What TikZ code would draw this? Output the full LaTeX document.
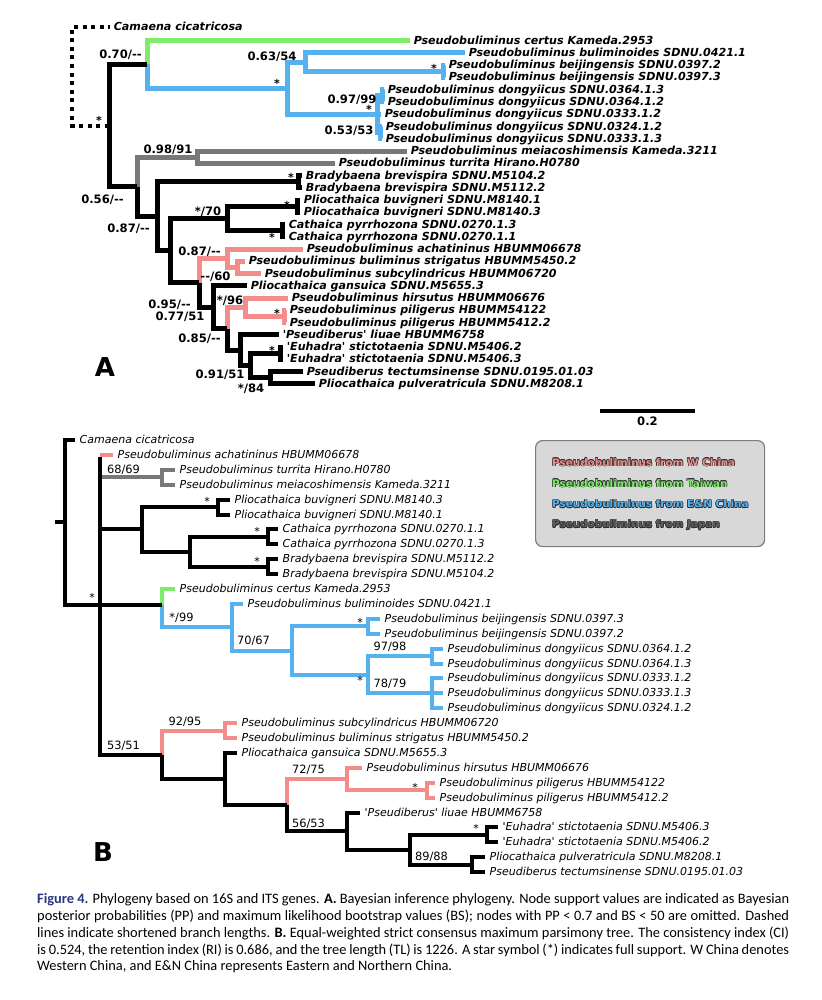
\documentclass[tikz,border=0pt]{standalone}
\usepackage{fontspec}
\setmainfont{DejaVu Sans}[Ligatures=TeXOff, BoldFont={DejaVu Sans Bold}, ItalicFont={DejaVu Sans Oblique}, BoldItalicFont={DejaVu Sans Bold Oblique}]
\newfontfamily\capfont{Carlito}
\usetikzlibrary{calc}
\definecolor{cgreen}{RGB}{125,236,105}
\definecolor{cblue}{RGB}{85,178,238}
\definecolor{cpink}{RGB}{244,140,140}
\definecolor{cgray}{RGB}{120,120,120}
\definecolor{legfill}{RGB}{216,216,216}
\definecolor{legdraw}{RGB}{125,125,125}
\definecolor{legout}{RGB}{45,45,45}
\definecolor{leggray}{RGB}{95,95,95}
\definecolor{figblue}{RGB}{40,55,130}
\tikzset{
  brA/.style={line width=5pt, line join=miter},
  brB/.style={line width=4pt, line join=miter},
  dotA/.style={line width=4pt, dash pattern=on 4pt off 4.6pt},
  labA/.style={font=\fontsize{11.1}{12}\selectfont\bfseries\itshape, anchor=west, inner xsep=3.6pt, inner ysep=0pt, text height=7pt, text depth=0pt},
  labB/.style={font=\fontsize{11}{12}\selectfont\itshape, anchor=west, inner xsep=4.5pt, inner ysep=0pt, text height=7pt, text depth=0pt},
  supA/.style={font=\fontsize{11.6}{12}\selectfont\bfseries, inner sep=0pt},
  supB/.style={font=\fontsize{11.4}{12}\selectfont, inner sep=0pt},
  starA/.style={font=\fontsize{11}{12}\selectfont\bfseries, inner sep=0pt},
  starB/.style={font=\fontsize{11}{12}\selectfont, inner sep=0pt},
  legt/.style={font=\fontsize{10.4}{12}\selectfont\bfseries, anchor=west, inner sep=0pt},
  panel/.style={font=\fontsize{26}{28}\selectfont\bfseries, inner sep=0pt},
}
\newcommand\tA[4]{\coordinate (#1) at (#2,{40.7+12.26*#3}); \node[labA] (#1t) at (#1) {#4};}
\newcommand\tB[4]{\coordinate (#1) at (#2,{440+14.9*#3}); \node[labB] (#1t) at (#1) {#4};}
\newcommand\sq{\textquotesingle}
\newcommand\legl[4]{%
  \foreach \dx/\dy in {0.6/0,-0.6/0,0/0.6,0/-0.6,0.42/0.42,0.42/-0.42,-0.42/0.42,-0.42/-0.42}
    {\node[legt,text=legout] at (552+\dx,#3+\dy) {#4};}
  \node[legt,text=#2] (#1) at (552,#3) {#4};}
\begin{document}
\begin{tikzpicture}[x=1pt,y=-1pt]
\useasboundingbox[fill=white] (0,0) rectangle (821,1000);

% ================= TREE A =================
\tA{a0}{410}{0}{Pseudobuliminus certus Kameda.2953}
\tA{a1}{465}{1}{Pseudobuliminus buliminoides SDNU.0421.1}
\tA{a2}{445}{2}{Pseudobuliminus beijingensis SDNU.0397.2}
\tA{a3}{445}{3}{Pseudobuliminus beijingensis SDNU.0397.3}
\tA{a4}{384}{4}{Pseudobuliminus dongyiicus SDNU.0364.1.3}
\tA{a5}{384}{5}{Pseudobuliminus dongyiicus SDNU.0364.1.2}
\tA{a6}{381}{6}{Pseudobuliminus dongyiicus SDNU.0333.1.2}
\tA{a7}{382}{7}{Pseudobuliminus dongyiicus SDNU.0324.1.2}
\tA{a8}{382}{8}{Pseudobuliminus dongyiicus SDNU.0333.1.3}
\tA{a9}{407}{9}{Pseudobuliminus meiacoshimensis Kameda.3211}
\tA{a10}{335}{10}{Pseudobuliminus turrita Hirano.H0780}
\tA{a11}{302}{11}{Bradybaena brevispira SDNU.M5104.2}
\tA{a12}{302}{12}{Bradybaena brevispira SDNU.M5112.2}
\tA{a13}{300}{13}{Pliocathaica buvigneri SDNU.M8140.1}
\tA{a14}{300}{14}{Pliocathaica buvigneri SDNU.M8140.3}
\tA{a15}{285}{15}{Cathaica pyrrhozona SDNU.0270.1.3}
\tA{a16}{285}{16}{Cathaica pyrrhozona SDNU.0270.1.1}
\tA{a17}{303}{17}{Pseudobuliminus achatininus HBUMM06678}
\tA{a18}{245}{18}{Pseudobuliminus buliminus strigatus HBUMM5450.2}
\tA{a19}{261}{19}{Pseudobuliminus subcylindricus HBUMM06720}
\tA{a20}{247}{20}{Pliocathaica gansuica SDNU.M5655.3}
\tA{a21}{288}{21}{Pseudobuliminus hirsutus HBUMM06676}
\tA{a22}{286}{22}{Pseudobuliminus piligerus HBUMM54122}
\tA{a23}{286}{23}{Pseudobuliminus piligerus HBUMM5412.2}
\tA{a24}{279}{24}{\sq Pseudiberus\sq\ liuae HBUMM6758}
\tA{a25}{283}{25}{\sq Euhadra\sq\ stictotaenia SDNU.M5406.2}
\tA{a26}{283}{26}{\sq Euhadra\sq\ stictotaenia SDNU.M5406.3}
\tA{a27}{303}{27}{Pseudiberus tectumsinense SDNU.0195.01.03}
\tA{a28}{315}{28}{Pliocathaica pulveratricula SDNU.M8208.1}

\coordinate (R) at (109,125.57);
\coordinate (N070) at (147,64.46);
\coordinate (P1) at (287,88.21);
\coordinate (N063) at (305,62.16);
\coordinate (NB) at (443,71.35);
\coordinate (D) at (377,114.26);
\coordinate (N097) at (382,95.87);
\coordinate (N053) at (380,132.65);
\coordinate (N056) at (137,186.68);
\coordinate (NJ) at (197,157.17);
\coordinate (N087a) at (157,216.18);
\coordinate (NBr) at (298,181.69);
\coordinate (Y) at (170,250.66);
\coordinate (N70) at (227,218.47);
\coordinate (NPl) at (297,206.21);
\coordinate (NCa) at (282,230.73);
\coordinate (Z) at (199,282.84);
\coordinate (W1) at (227,258.32);
\coordinate (SS) at (237,267.51);
\coordinate (W) at (213,307.35);
\coordinate (V) at (227,328.8);
\coordinate (H) at (245,307.36);
\coordinate (PG) at (284,316.55);
\coordinate (L) at (240,350.27);
\coordinate (N091) at (250,365.59);
\coordinate (Eu) at (280,353.33);
\coordinate (N084) at (270,377.85);

% outgroup (dotted, shortened)
\coordinate (dotc) at (72,27);
\coordinate (camA) at (110,27);
\node[labA] (camAt) at (camA) {Camaena cicatricosa};
\draw[dotA] (R) -| (dotc) -- (camA);

\foreach \p/\c in {N056/NJ,NJ/a9,NJ/a10} \draw[brA,cgray] (\p) |- (\c);
\foreach \p/\c in {N070/a0} \draw[brA,cgreen] (\p) |- (\c);
\foreach \p/\c in {N070/P1,P1/N063,P1/D,N063/a1,N063/NB,NB/a2,NB/a3,D/N097,D/a6,D/N053,N097/a4,N097/a5,N053/a7,N053/a8}
  \draw[brA,cblue] (\p) |- (\c);
\foreach \p/\c in {Z/W1,W1/a17,W1/SS,SS/a18,SS/a19,V/H,H/a21,H/PG,PG/a22,PG/a23}
  \draw[brA,cpink] (\p) |- (\c);
\foreach \p/\c in {R/N070,R/N056,N056/N087a,N087a/NBr,N087a/Y,NBr/a11,NBr/a12,Y/N70,Y/Z,N70/NPl,N70/NCa,NPl/a13,NPl/a14,NCa/a15,NCa/a16,Z/W,W/a20,W/V,V/L,L/a24,L/N091,N091/Eu,N091/N084,Eu/a25,Eu/a26,N084/a27,N084/a28}
  \draw[brA] (\p) |- (\c);

% support values A
\node[starA] (sR) at (99,120) {*};
\node[supA] (s070) at (120.5,55) {0.70/--};
\node[supA] (s063) at (272,56.5) {0.63/54};
\node[starA] (sP1) at (277,83) {*};
\node[starA] (sNB) at (434,68.5) {*};
\node[supA] (s097) at (352,99.5) {0.97/99};
\node[starA] (sD) at (369,109) {*};
\node[supA] (s053) at (349,130.5) {0.53/53};
\node[supA] (s098) at (168,150) {0.98/91};
\node[supA] (s056) at (102.5,200) {0.56/--};
\node[supA] (s087a) at (128.5,229) {0.87/--};
\node[starA] (sBr) at (291,177) {*};
\node[supA] (s70) at (208,212) {*/70};
\node[starA] (sPl) at (287,205) {*};
\node[starA] (sCa) at (272,237) {*};
\node[supA] (s087b) at (199.5,251.5) {0.87/--};
\node[supA] (s060) at (215.5,276.5) {--/60};
\node[supA] (s095) at (169.5,305) {0.95/--};
\node[supA] (s096) at (230,300.5) {*/96};
\node[starA] (sPG) at (277,313.5) {*};
\node[supA] (s077) at (180,316.5) {0.77/51};
\node[supA] (s085) at (199.5,338.5) {0.85/--};
\node[starA] (sEu) at (272,350) {*};
\node[supA] (s091) at (220,375) {0.91/51};
\node[supA] (s084) at (251,388.5) {*/84};

\node[panel] (pA) at (105,367.5) {A};

% scale bar
\coordinate (sb1) at (600,411);
\coordinate (sb2) at (695,411);
\draw[line width=4pt] (sb1) -- (sb2);
\node[supA] (sbt) at (647.5,421.5) {0.2};

% ================= TREE B =================
\tB{b0}{75}{0}{Camaena cicatricosa}
\tB{b1}{113}{1}{Pseudobuliminus achatininus HBUMM06678}
\tB{b2}{175}{2}{Pseudobuliminus turrita Hirano.H0780}
\tB{b3}{175}{3}{Pseudobuliminus meiacoshimensis Kameda.3211}
\tB{b4}{230}{4}{Pliocathaica buvigneri SDNU.M8140.3}
\tB{b5}{230}{5}{Pliocathaica buvigneri SDNU.M8140.1}
\tB{b6}{278}{6}{Cathaica pyrrhozona SDNU.0270.1.1}
\tB{b7}{278}{7}{Cathaica pyrrhozona SDNU.0270.1.3}
\tB{b8}{278}{8}{Bradybaena brevispira SDNU.M5112.2}
\tB{b9}{278}{9}{Bradybaena brevispira SDNU.M5104.2}
\tB{b10}{175}{10}{Pseudobuliminus certus Kameda.2953}
\tB{b11}{243}{11}{Pseudobuliminus buliminoides SDNU.0421.1}
\tB{b12}{380}{12}{Pseudobuliminus beijingensis SDNU.0397.3}
\tB{b13}{380}{13}{Pseudobuliminus beijingensis SDNU.0397.2}
\tB{b14}{443}{14}{Pseudobuliminus dongyiicus SDNU.0364.1.2}
\tB{b15}{443}{15}{Pseudobuliminus dongyiicus SDNU.0364.1.3}
\tB{b16}{443}{16}{Pseudobuliminus dongyiicus SDNU.0333.1.2}
\tB{b17}{443}{17}{Pseudobuliminus dongyiicus SDNU.0333.1.3}
\tB{b18}{443}{18}{Pseudobuliminus dongyiicus SDNU.0324.1.2}
\tB{b19}{237}{19}{Pseudobuliminus subcylindricus HBUMM06720}
\tB{b20}{237}{20}{Pseudobuliminus buliminus strigatus HBUMM5450.2}
\tB{b21}{237}{21}{Pliocathaica gansuica SDNU.M5655.3}
\tB{b22}{362}{22}{Pseudobuliminus hirsutus HBUMM06676}
\tB{b23}{435}{23}{Pseudobuliminus piligerus HBUMM54122}
\tB{b24}{435}{24}{Pseudobuliminus piligerus HBUMM5412.2}
\tB{b25}{360}{25}{\sq Pseudiberus\sq\ liuae HBUMM6758}
\tB{b26}{498}{26}{\sq Euhadra\sq\ stictotaenia SDNU.M5406.3}
\tB{b27}{498}{27}{\sq Euhadra\sq\ stictotaenia SDNU.M5406.2}
\tB{b28}{485}{28}{Pliocathaica pulveratricula SDNU.M8208.1}
\tB{b29}{485}{29}{Pseudiberus tectumsinense SDNU.0195.01.03}

\coordinate (Bst) at (55,522.4);
\coordinate (BR) at (65,522.4);
\coordinate (BI) at (100,604.85);
\coordinate (BG68) at (162,477.25);
\coordinate (BBL) at (142,529.4);
\coordinate (BPl) at (218,507.05);
\coordinate (BCB) at (190,551.75);
\coordinate (BCa) at (268,536.85);
\coordinate (BBr) at (268,566.65);
\coordinate (BC) at (162,604.85);
\coordinate (BE) at (232,627.2);
\coordinate (BF) at (292,650.5);
\coordinate (BBj) at (368,626.25);
\coordinate (BGd) at (368,674.7);
\coordinate (B97) at (432,656.05);
\coordinate (B78) at (432,693.3);
\coordinate (BK) at (162,754.8);
\coordinate (BKP) at (225,730.55);
\coordinate (BM) at (225,779);
\coordinate (BN) at (287,805);
\coordinate (BP) at (347,779);
\coordinate (BPG) at (427,790.15);
\coordinate (BQ) at (347,831.1);
\coordinate (BR2) at (410,849.75);
\coordinate (BEu) at (487,834.85);
\coordinate (BS) at (472,864.65);

% coloured horizontals that leave the black vertical of BI
\draw[brB,cpink] (b1 -| BI) -- (b1);
\draw[brB,cgray] (BG68 -| BI) -- (BG68);
\foreach \p/\c in {BG68/b2,BG68/b3} \draw[brB,cgray] (\p) |- (\c);
\foreach \p/\c in {BC/b10} \draw[brB,cgreen] (\p) |- (\c);
\foreach \p/\c in {BC/BE,BE/b11,BE/BF,BF/BBj,BF/BGd,BBj/b12,BBj/b13,BGd/B97,BGd/B78,B97/b14,B97/b15,B78/b16,B78/b17,B78/b18}
  \draw[brB,cblue] (\p) |- (\c);
\foreach \p/\c in {BK/BKP,BKP/b19,BKP/b20,BN/BP,BP/b22,BP/BPG,BPG/b23,BPG/b24}
  \draw[brB,cpink] (\p) |- (\c);
\draw[brB] (Bst) -- (BR);
\draw[brB] (BI) -- ([yshift=-2pt]BI |- b1);
\foreach \p/\c in {BR/b0,BR/BI,BI/BBL,BI/BC,BI/BK,BBL/BPl,BBL/BCB,BPl/b4,BPl/b5,BCB/BCa,BCB/BBr,BCa/b6,BCa/b7,BBr/b8,BBr/b9,BK/BM,BM/b21,BM/BN,BN/BQ,BQ/b25,BQ/BR2,BR2/BEu,BR2/BS,BEu/b26,BEu/b27,BS/b28,BS/b29}
  \draw[brB] (\p) |- (\c);

% support values B
\node[supB] (t68) at (123.5,469.3) {68/69};
\node[starB] (tPl) at (207,501) {*};
\node[starB] (tCa) at (257,531) {*};
\node[starB] (tBr) at (257,561) {*};
\node[starB] (tI) at (92,597) {*};
\node[supB] (t99) at (181.5,617.3) {*/99};
\node[supB] (t70) at (253.5,640.7) {70/67};
\node[starB] (tBj) at (360,622.7) {*};
\node[supB] (t97) at (390,646.7) {97/98};
\node[starB] (tGd) at (360,680.3) {*};
\node[supB] (t78) at (390,684) {78/79};
\node[supB] (t92) at (185,721.7) {92/95};
\node[supB] (t53) at (123.5,746) {53/51};
\node[supB] (t72) at (308.5,770) {72/75};
\node[starB] (tPG) at (415,787) {*};
\node[supB] (t56) at (308.5,823.3) {56/53};
\node[starB] (tEu) at (476,828.7) {*};
\node[supB] (t89) at (431.5,856.7) {89/88};

\node[panel] (pB) at (103,852.5) {B};

% legend
\node[draw=legdraw, line width=1.2pt, fill=legfill, rounded corners=7pt, minimum width=229pt, minimum height=106pt, anchor=north west, inner sep=0pt] (legbox) at (535,440) {};
\legl{lg1}{cpink}{462.3}{Pseudobuliminus from W China}
\legl{lg2}{cgreen}{483.3}{Pseudobuliminus from Taiwan}
\legl{lg3}{cblue}{504}{Pseudobuliminus from E\&N China}
\legl{lg4}{leggray}{525}{Pseudobuliminus from Japan}

% caption
\node[anchor=north west, inner sep=0pt, text width=752pt, align=justify, font=\capfont\fontsize{14.4}{16.9}\selectfont] (cap) at (37,893)
{{\bfseries\color{figblue}Figure 4.} Phylogeny based on 16S and ITS genes. {\bfseries A.} Bayesian inference phylogeny. Node support values are indicated as Bayesian\linebreak
posterior probabilities (PP) and maximum likelihood bootstrap values (BS); nodes with PP < 0.7 and BS < 50 are omitted. Dashed\linebreak
lines indicate shortened branch lengths. {\bfseries B.} Equal-weighted strict consensus maximum parsimony tree. The consistency index (CI)\linebreak
is 0.524, the retention index (RI) is 0.686, and the tree length (TL) is 1226. A star symbol (*) indicates full support. W China denotes\linebreak
Western China, and E\&N China represents Eastern and Northern China.};
\end{tikzpicture}
\end{document}
